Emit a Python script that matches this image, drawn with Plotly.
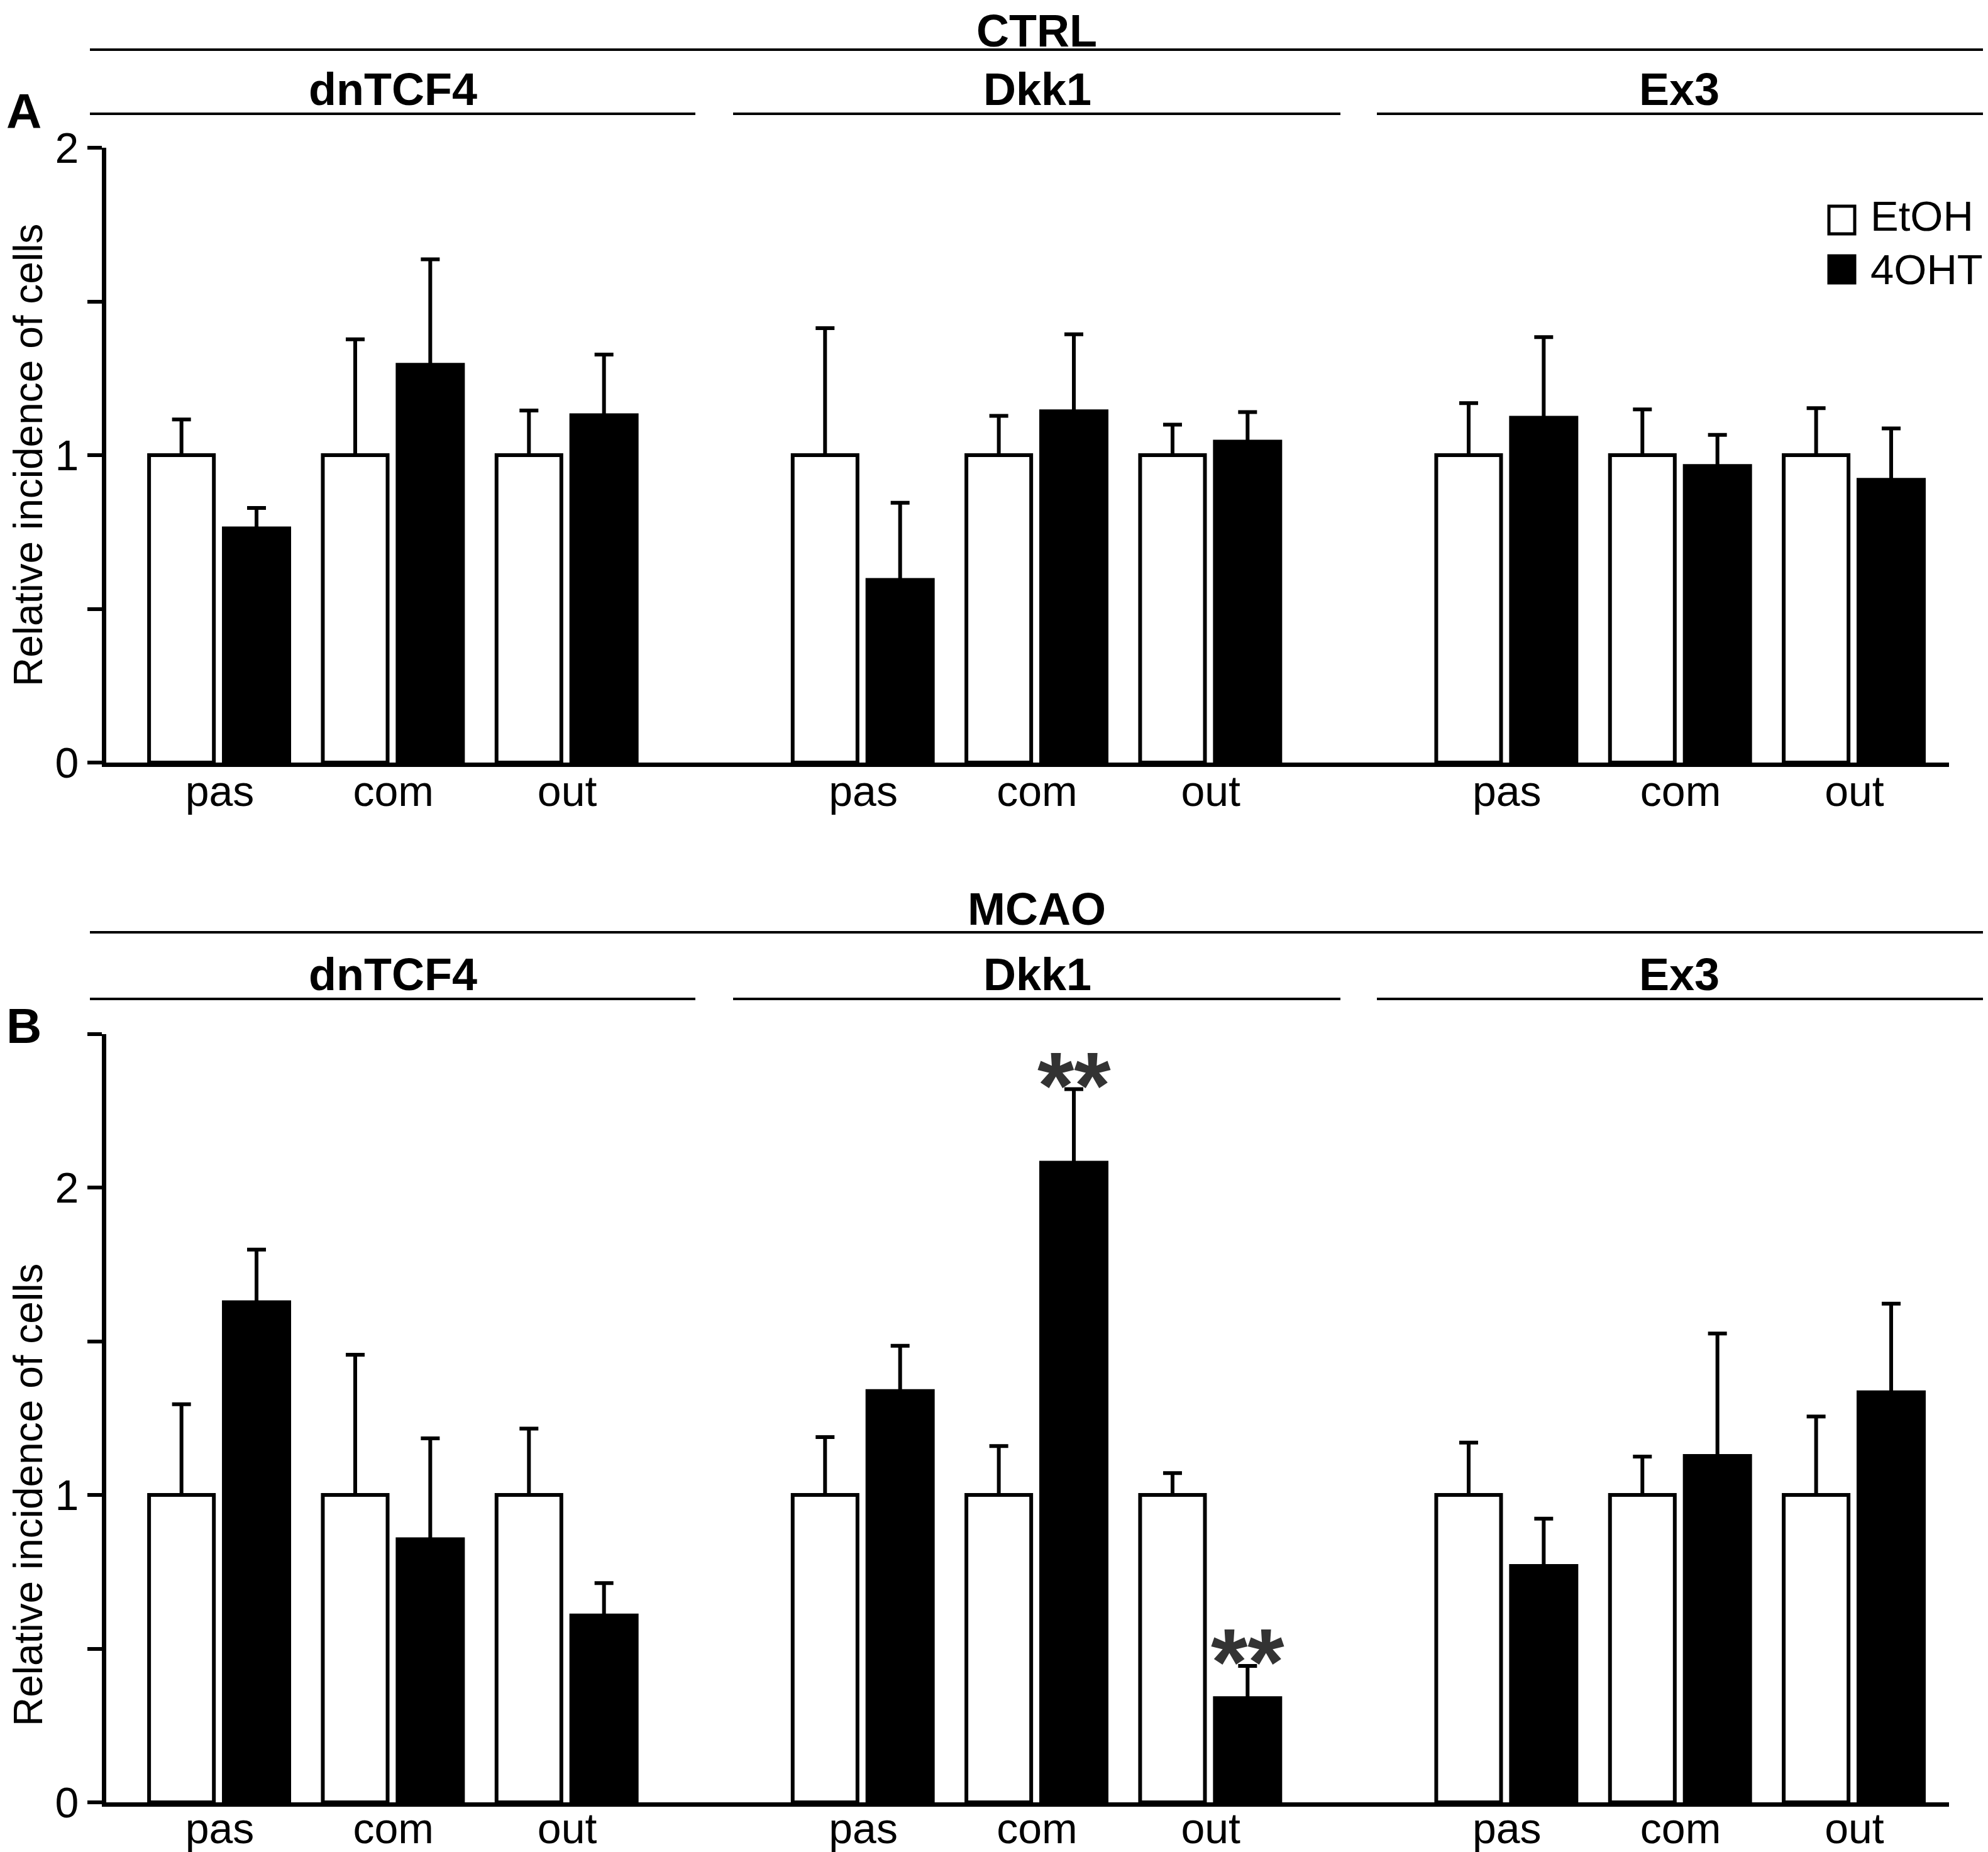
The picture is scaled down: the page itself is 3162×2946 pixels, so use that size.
import plotly.graph_objects as go

# categories
groups = ["dnTCF4", "Dkk1", "Ex3"]
regions = ["pas", "com", "out"]

# panel A (CTRL): means and upper error (SEM), order dnTCF4 pas/com/out, Dkk1 ..., Ex3 ...
ctrl_etoh = [1.0, 1.0, 1.0, 1.0, 1.0, 1.0, 1.0, 1.0, 1.0]
ctrl_etoh_err = [0.116, 0.377, 0.145, 0.413, 0.128, 0.099, 0.169, 0.149, 0.153]
ctrl_4oht = [0.768, 1.300, 1.136, 0.600, 1.149, 1.050, 1.128, 0.971, 0.926]
ctrl_4oht_err = [0.060, 0.337, 0.191, 0.245, 0.244, 0.090, 0.256, 0.095, 0.161]

# panel B (MCAO)
mcao_etoh = [1.0, 1.0, 1.0, 1.0, 1.0, 1.0, 1.0, 1.0, 1.0]
mcao_etoh_err = [0.295, 0.456, 0.216, 0.188, 0.159, 0.071, 0.170, 0.125, 0.255]
mcao_4oht = [1.633, 0.862, 0.614, 1.344, 2.087, 0.345, 0.775, 1.133, 1.340]
mcao_4oht_err = [0.165, 0.322, 0.099, 0.141, 0.233, 0.099, 0.148, 0.392, 0.282]
mcao_sig = ["", "", "", "", "**", "**", "", "", ""]

# page geometry: positions below are measured on the reference (px);
# the page body adds an 8 px margin, so the figure is drawn 8 px up/left
OFF = 8
FIG_W, FIG_H = 3162 - OFF, 2946 - OFF
L, R = 169 - OFF, FIG_W - (3100 - OFF)
T, B = 235 - OFF, FIG_H - (2867 - OFF)
PW, PH = FIG_W - L - R, FIG_H - T - B

GROUP_STEP = 3.7045
x_pos = [g * GROUP_STEP + r for g in range(len(groups)) for r in range(len(regions))]
x_text = [r for g in groups for r in regions]

OFF_E, W_E = -0.4065, 0.373
OFF_O, W_O = 0.013, 0.398
SHOE = 0.012  # hides the lower cap of the error bar inside the black bar

FONT = "Liberation Sans, Arial, sans-serif"


def px_x(x):
    return (x - OFF - L) / PW


def px_y(y):
    return 1 - (y - OFF - T) / PH


def bars(etoh, etoh_err, oht, oht_err, xa, ya):
    n = len(etoh)
    return [
        go.Bar(x=x_pos, y=etoh, offset=OFF_E, width=W_E, xaxis=xa, yaxis=ya,
               marker=dict(color="white", line=dict(color="black", width=6)),
               error_y=dict(type="data", array=etoh_err, arrayminus=[0] * n, symmetric=False,
                            color="black", thickness=6, width=15),
               name="EtOH", showlegend=False),
        go.Bar(x=x_pos, y=oht, offset=OFF_O, width=W_O, xaxis=xa, yaxis=ya,
               marker=dict(color="black", line=dict(color="black", width=0)),
               error_y=dict(type="data", array=oht_err, arrayminus=[SHOE] * n, symmetric=False,
                            color="black", thickness=6, width=15),
               name="4OHT", showlegend=False),
    ]


fig = go.Figure(bars(ctrl_etoh, ctrl_etoh_err, ctrl_4oht, ctrl_4oht_err, "x", "y")
                + bars(mcao_etoh, mcao_etoh_err, mcao_4oht, mcao_4oht_err, "x2", "y2"))

xrange = [-0.653, 9.954]
xcommon = dict(range=xrange, showgrid=False, zeroline=False, showline=True, linecolor="black",
               linewidth=7, ticks="", tickvals=x_pos, ticktext=x_text, automargin=False,
               tickfont=dict(family=FONT, size=68, color="black"))
ycommon = dict(showgrid=False, zeroline=False, showline=True, linecolor="black", linewidth=7,
               ticks="outside", ticklen=23, tickwidth=6, tickcolor="black", automargin=False,
               tickfont=dict(family=FONT, size=68, color="black"))

fig.update_layout(
    width=FIG_W, height=FIG_H,
    margin=dict(l=L, r=R, t=T, b=B),
    paper_bgcolor="white", plot_bgcolor="white",
    showlegend=False, barmode="overlay",
    xaxis=dict(xcommon, anchor="y", ticklabelstandoff=-20),
    yaxis=dict(ycommon, anchor="x", domain=[px_y(1213), 1], range=[0, 2],
               tickvals=[0, 0.5, 1, 1.5, 2], ticktext=["0", "", "1", "", "2"]),
    xaxis2=dict(xcommon, anchor="y2", ticklabelstandoff=-24),
    yaxis2=dict(ycommon, anchor="x2", domain=[0, px_y(1644.5)], range=[0, 2.5],
                tickvals=[0, 0.5, 1, 1.5, 2, 2.5], ticktext=["0", "", "1", "", "2", ""]),
)

annotations = []
shapes = []


def label(text, x, y, size, bold=False, anchor="center"):
    annotations.append(dict(text=f"<b>{text}</b>" if bold else text, x=px_x(x), y=px_y(y),
                            xref="paper", yref="paper", xanchor=anchor, yanchor="middle",
                            showarrow=False, borderpad=0,
                            font=dict(family=FONT, size=size, color="black")))


def hline(x0, x1, y):
    shapes.append(dict(type="line", xref="paper", yref="paper", x0=px_x(x0), x1=px_x(x1),
                       y0=px_y(y), y1=px_y(y), line=dict(color="black", width=4)))


group_centers = [625, 1650, 2671]
group_lines = [(143, 1106), (1166, 2132), (2190, 3155)]

for title, letter, y_title, y_top, y_grp, y_grpline, y_letter in [
        ("CTRL", "A", 49, 79, 142, 181, 177),
        ("MCAO", "B", 1446, 1483, 1550, 1589, 1632)]:
    label(title, 1649, y_title, 72, bold=True)
    hline(143, 3155, y_top)
    for name, cx, (a, b) in zip(groups, group_centers, group_lines):
        label(name, cx, y_grp, 72, bold=True)
        hline(a, b, y_grpline)
    label(letter, 38, y_letter, 78, bold=True)

# y axis titles centred on the value 1
for yref in ["y", "y2"]:
    annotations.append(dict(text="Relative incidence of cells", x=px_x(45), y=1, xref="paper",
                            yref=yref, xanchor="center", yanchor="middle", textangle=-90,
                            showarrow=False, borderpad=0,
                            font=dict(family=FONT, size=64, color="black")))

# significance marks
for xp, m, e, s in zip(x_pos, mcao_4oht, mcao_4oht_err, mcao_sig):
    if s:
        annotations.append(dict(text=f"<b>{s}</b>", x=xp + OFF_O + W_O / 2, y=m + e, xref="x2",
                                yref="y2", xanchor="center", yanchor="bottom", yshift=-80,
                                showarrow=False, font=dict(family=FONT, size=150, color="#333333")))

# legend
for name, fill, (y0, y1), ty in [("EtOH", "white", (328, 372), 343),
                                 ("4OHT", "black", (407, 450), 428)]:
    shapes.append(dict(type="rect", xref="paper", yref="paper", x0=px_x(2909), x1=px_x(2950),
                       y0=px_y(y1), y1=px_y(y0), fillcolor=fill,
                       line=dict(color="black", width=5)))
    label(name, 2974, ty, 67, anchor="left")

fig.update_layout(annotations=annotations, shapes=shapes)

fig.write_html("out.html")
